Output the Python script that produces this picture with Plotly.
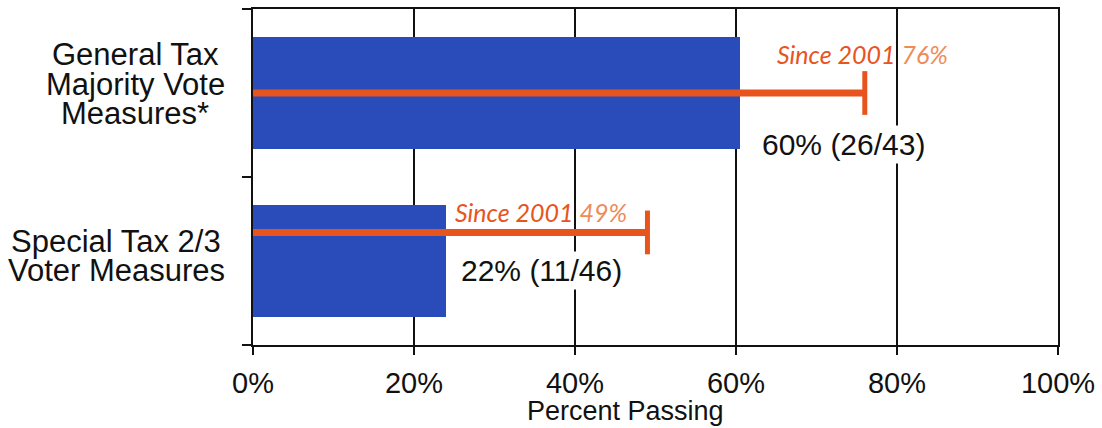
import plotly.graph_objects as go

# Ballot measure outcomes
categories = ["General Tax<br>Majority Vote<br>Measures*", "Special Tax 2/3<br>Voter Measures"]
passed = [26, 11]
total = [43, 46]
pct_stated = [60, 22]
since_2001_pct = [76, 49]
x_ticks = [0, 20, 40, 60, 80, 100]
x_tick_labels = ["0%", "20%", "40%", "60%", "80%", "100%"]

pct_passing = [p / t * 100 for p, t in zip(passed, total)]

# layout constants
W, H = 1102, 428
M = dict(l=253, r=42, t=7, b=83)
plot_h = H - M["t"] - M["b"]
y_lo, y_hi = -0.5, 1.5
px_per_y = plot_h / (y_hi - y_lo)
plot_w = W - M["l"] - M["r"]

BLUE = "rgb(42,75,186)"
ORANGE = "rgb(232,84,30)"
ORANGE_LIGHT = "rgb(238,140,88)"
INK = "#111111"
FONT = "Liberation Sans, Arial, sans-serif"

y_pos = [1, 0]               # General on top, Special below
guide_offset = [0.0, 0.17]   # vertical placement of the since-2001 guide lines
since_label_x = [64.9, 24.9]
since_label_dy = [0.234, 0.289]
value_label_x = [62.9, 25.5]
value_label_dy = [-0.305, -0.056]
cat_label_center_px = [135, 116]
cat_label_shift_px = [-9, -5]
cap_half_px = 22

fig = go.Figure()

fig.add_trace(go.Bar(
    x=pct_passing, y=y_pos, orientation="h", width=0.663,
    marker=dict(color=BLUE, line=dict(width=0)),
    hoverinfo="skip", showlegend=False,
))

for v, y0, dy in zip(since_2001_pct, y_pos, guide_offset):
    yy = y0 + dy
    # horizontal guide from zero to the since-2001 rate
    fig.add_trace(go.Scatter(
        x=[0, v], y=[yy, yy], mode="lines",
        line=dict(color=ORANGE, width=7),
        hoverinfo="skip", showlegend=False, cliponaxis=False,
    ))
    # end cap
    fig.add_trace(go.Scatter(
        x=[v], y=[yy], mode="markers",
        marker=dict(size=1, color=ORANGE, opacity=1),
        error_y=dict(type="constant", value=cap_half_px / px_per_y,
                     thickness=5, width=0, color=ORANGE),
        hoverinfo="skip", showlegend=False, cliponaxis=False,
    ))

annotations = []

# since-2001 labels
for v, y0, lx, dy in zip(since_2001_pct, y_pos, since_label_x, since_label_dy):
    annotations.append(dict(
        x=lx, y=y0 + dy, xref="x", yref="y", xanchor="left", yanchor="middle",
        showarrow=False,
        text=f"<i>Since 2001 <span style='color:{ORANGE_LIGHT}'>{v}%</span></i>",
        font=dict(family="Lato, sans-serif", size=25, color=ORANGE),
    ))

# value labels with white backing
for pct, p, t, y0, lx, dy in zip(pct_stated, passed, total, y_pos, value_label_x, value_label_dy):
    annotations.append(dict(
        x=lx, y=y0 + dy, xref="x", yref="y", xanchor="left", yanchor="middle",
        showarrow=False, bgcolor="white", borderpad=2,
        text=f"{pct}% ({p}/{t})",
        font=dict(family=FONT, size=30, color=INK),
    ))

# category labels, one annotation per line for tight line spacing
line_pitch = 30
for cat, y0, cx, shift in zip(categories, y_pos, cat_label_center_px, cat_label_shift_px):
    lines = cat.split("<br>")
    n = len(lines)
    for i, ln in enumerate(lines):
        off_px = (i - (n - 1) / 2) * line_pitch + shift
        annotations.append(dict(
            x=(cx - M["l"]) / plot_w, y=y0 - off_px / px_per_y,
            xref="paper", yref="y", xanchor="center", yanchor="middle",
            showarrow=False, text=ln,
            font=dict(family=FONT, size=31, color=INK),
        ))

# axis title
annotations.append(dict(
    x=(626 - M["l"]) / plot_w, y=-(411 - (H - M["b"])) / plot_h,
    xref="paper", yref="paper", xanchor="center", yanchor="middle",
    showarrow=False, text="Percent Passing",
    font=dict(family=FONT, size=27, color=INK),
))

fig.update_layout(
    width=W, height=H, margin=M,
    paper_bgcolor="white", plot_bgcolor="white",
    annotations=annotations,
    xaxis=dict(
        range=[0, 100], tickvals=x_ticks, ticktext=x_tick_labels,
        showgrid=True, gridcolor=INK, gridwidth=2,
        showline=True, linecolor=INK, linewidth=2, mirror=True,
        ticks="outside", ticklen=8, tickwidth=2, tickcolor=INK,
        ticklabelstandoff=3,
        tickfont=dict(family=FONT, size=29, color=INK),
        zeroline=False, fixedrange=True,
    ),
    yaxis=dict(
        range=[y_lo, y_hi], tickvals=[-0.5, 0.5, 1.5], ticktext=["", "", ""],
        showgrid=False, zeroline=False,
        showline=True, linecolor=INK, linewidth=2, mirror=True,
        ticks="outside", ticklen=9, tickwidth=2, tickcolor=INK,
        fixedrange=True,
    ),
    bargap=0,
)

fig.write_html("out.html")
